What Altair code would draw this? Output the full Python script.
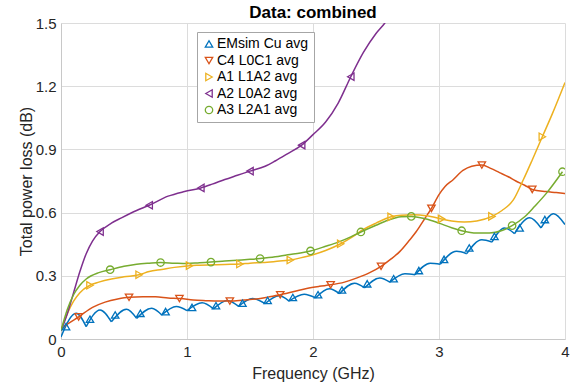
import altair as alt
import pandas as pd

# ---------------- data ----------------
series_names = ["EMsim Cu avg", "C4 L0C1 avg", "A1 L1A2 avg", "A2 L0A2 avg", "A3 L2A1 avg"]
series_colors = ["#0072BD", "#D95319", "#EDB120", "#7E2F8E", "#77AC30"]
series_shapes = ["triangle-up", "triangle-down", "triangle-right", "triangle-left", "circle"]

# EMsim Cu avg: scalloped curve described by valleys (cusps) and arch peaks
blue_valley_x = [0.0, 0.20, 0.40, 0.60, 0.80, 1.00, 1.21, 1.41, 1.62, 1.81, 2.02,
                 2.21, 2.41, 2.61, 2.81, 3.01, 3.22, 3.42, 3.60, 3.81, 4.0]
blue_valley_y = [0.01, 0.059, 0.082, 0.098, 0.114, 0.135, 0.143, 0.155, 0.168, 0.18, 0.195,
                 0.215, 0.243, 0.27, 0.305, 0.355, 0.405, 0.46, 0.50, 0.527, 0.543]
blue_peak_x = [0.12, 0.31, 0.52, 0.72, 0.915, 1.12, 1.32, 1.52, 1.73, 1.93,
               2.13, 2.33, 2.53, 2.73, 2.93, 3.14, 3.34, 3.52, 3.72, 3.91]
blue_peak_y = [0.122, 0.138, 0.141, 0.146, 0.154, 0.172, 0.183, 0.192, 0.205, 0.212,
               0.238, 0.265, 0.29, 0.31, 0.36, 0.416, 0.471, 0.527, 0.575, 0.595]
blue_mark_x = [0.04, 0.23, 0.43, 0.63, 0.83, 1.04, 1.23, 1.44, 1.64, 1.84,
               2.04, 2.23, 2.43, 2.64, 2.84, 3.04, 3.24, 3.44, 3.64, 3.84]
blue_mark_y = [0.059, 0.094, 0.114, 0.122, 0.13, 0.15, 0.158, 0.17, 0.183, 0.197,
               0.21, 0.233, 0.262, 0.286, 0.325, 0.378, 0.432, 0.487, 0.527, 0.567]

orange_x = [0, 0.05, 0.14, 0.25, 0.35, 0.45, 0.54, 0.65, 0.75, 0.85, 0.95, 1.05, 1.15, 1.25,
            1.34, 1.45, 1.55, 1.65, 1.74, 1.85, 1.95, 2.05, 2.14, 2.25, 2.35, 2.45, 2.54,
            2.62, 2.69, 2.76, 2.82, 2.88, 2.94, 3.0, 3.05, 3.11, 3.19, 3.26, 3.34, 3.41,
            3.48, 3.55, 3.61, 3.68, 3.74, 3.85, 3.93, 4.0]
orange_y = [0.045, 0.07, 0.105, 0.15, 0.175, 0.19, 0.198, 0.20, 0.20, 0.195, 0.192, 0.185,
            0.182, 0.18, 0.18, 0.185, 0.19, 0.20, 0.21, 0.225, 0.24, 0.25, 0.257, 0.27,
            0.29, 0.315, 0.345, 0.38, 0.416, 0.465, 0.51, 0.565, 0.62, 0.685, 0.725, 0.755,
            0.80, 0.82, 0.826, 0.81, 0.79, 0.77, 0.75, 0.73, 0.71, 0.70, 0.695, 0.69]
orange_mark_x = [0.14, 0.54, 0.94, 1.34, 1.74, 2.14, 2.54, 2.94, 3.34, 3.74]
orange_mark_y = [0.105, 0.198, 0.192, 0.18, 0.21, 0.257, 0.345, 0.62, 0.826, 0.71]

yellow_x = [0, 0.05, 0.1, 0.15, 0.23, 0.3, 0.4, 0.5, 0.62, 0.7, 0.8, 0.9, 1.02, 1.1, 1.2,
            1.3, 1.42, 1.5, 1.6, 1.7, 1.82, 1.9, 2.0, 2.1, 2.22, 2.3, 2.4, 2.5, 2.62, 2.7,
            2.8, 2.9, 3.02, 3.1, 3.2, 3.3, 3.42, 3.5, 3.59, 3.67, 3.74, 3.82, 3.9, 4.0]
yellow_y = [0.04, 0.12, 0.18, 0.22, 0.255, 0.27, 0.285, 0.295, 0.305, 0.32, 0.33, 0.34,
            0.348, 0.35, 0.352, 0.354, 0.356, 0.36, 0.363, 0.368, 0.375, 0.385, 0.40, 0.42,
            0.452, 0.48, 0.52, 0.55, 0.58, 0.588, 0.59, 0.585, 0.57, 0.56, 0.555, 0.56,
            0.582, 0.61, 0.66, 0.757, 0.85, 0.96, 1.07, 1.218]
yellow_mark_x = [0.23, 0.62, 1.02, 1.42, 1.82, 2.22, 2.62, 3.02, 3.42, 3.82]
yellow_mark_y = [0.255, 0.305, 0.348, 0.356, 0.375, 0.452, 0.58, 0.57, 0.582, 0.96]

purple_x = [0, 0.05, 0.1, 0.15, 0.2, 0.25, 0.31, 0.4, 0.48, 0.6, 0.7, 0.85, 0.98, 1.11,
            1.2, 1.3, 1.4, 1.5, 1.62, 1.7, 1.8, 1.91, 2.0, 2.1, 2.2, 2.3, 2.4, 2.5, 2.57, 2.65]
purple_y = [0.04, 0.12, 0.22, 0.32, 0.405, 0.465, 0.51, 0.55, 0.575, 0.61, 0.635, 0.678,
            0.70, 0.717, 0.735, 0.757, 0.777, 0.797, 0.82, 0.845, 0.88, 0.92, 0.97, 1.03,
            1.12, 1.245, 1.36, 1.45, 1.5, 1.58]
purple_mark_x = [0.31, 0.70, 1.11, 1.50, 1.91, 2.30]
purple_mark_y = [0.51, 0.635, 0.717, 0.797, 0.92, 1.245]

green_x = [0, 0.05, 0.1, 0.15, 0.2, 0.3, 0.39, 0.5, 0.6, 0.7, 0.79, 0.9, 1.0, 1.1, 1.19,
           1.3, 1.4, 1.5, 1.58, 1.7, 1.8, 1.9, 1.98, 2.1, 2.2, 2.3, 2.38, 2.5, 2.6, 2.7,
           2.78, 2.9, 3.0, 3.1, 3.18, 3.3, 3.4, 3.5, 3.58, 3.68, 3.76, 3.85, 3.98]
green_y = [0.04, 0.14, 0.21, 0.255, 0.285, 0.315, 0.329, 0.345, 0.355, 0.36, 0.363, 0.36,
           0.358, 0.362, 0.365, 0.37, 0.374, 0.378, 0.382, 0.39, 0.40, 0.408, 0.418, 0.44,
           0.46, 0.485, 0.508, 0.54, 0.565, 0.58, 0.582, 0.57, 0.55, 0.528, 0.514, 0.503,
           0.503, 0.515, 0.538, 0.58, 0.63, 0.69, 0.794]
green_mark_x = [0.39, 0.79, 1.19, 1.58, 1.98, 2.38, 2.78, 3.18, 3.58, 3.98]
green_mark_y = [0.329, 0.363, 0.365, 0.382, 0.418, 0.508, 0.582, 0.514, 0.538, 0.794]

x_ticks = [0, 1, 2, 3, 4]
y_ticks = [0, 0.3, 0.6, 0.9, 1.2, 1.5]

# ---------------- build tables ----------------
rows = []
# blue arches: valley -> peak -> next valley, each as its own segment
for i in range(len(blue_peak_x)):
    seg = f"blue{i}"
    rows.append(dict(series=series_names[0], seg=seg, x=blue_valley_x[i], y=blue_valley_y[i]))
    rows.append(dict(series=series_names[0], seg=seg, x=blue_peak_x[i], y=blue_peak_y[i]))
    rows.append(dict(series=series_names[0], seg=seg, x=blue_valley_x[i + 1], y=blue_valley_y[i + 1]))
for name, xs, ys in [(series_names[1], orange_x, orange_y),
                     (series_names[2], yellow_x, yellow_y),
                     (series_names[3], purple_x, purple_y),
                     (series_names[4], green_x, green_y)]:
    for a, b in zip(xs, ys):
        rows.append(dict(series=name, seg=name, x=a, y=b))
lines_df = pd.DataFrame(rows)

mrows = []
for name, xs, ys in [(series_names[0], blue_mark_x, blue_mark_y),
                     (series_names[1], orange_mark_x, orange_mark_y),
                     (series_names[2], yellow_mark_x, yellow_mark_y),
                     (series_names[3], purple_mark_x, purple_mark_y),
                     (series_names[4], green_mark_x, green_mark_y)]:
    for a, b in zip(xs, ys):
        mrows.append(dict(series=name, x=a, y=b))
marks_df = pd.DataFrame(mrows)

FONT = "Liberation Sans"

xenc = alt.X("x:Q", scale=alt.Scale(domain=[0, 4], nice=False, zero=False),
             axis=alt.Axis(values=x_ticks, format="d", title="Frequency (GHz)", labelFlush=False))
yenc = alt.Y("y:Q", scale=alt.Scale(domain=[0, 1.5], nice=False),
             axis=alt.Axis(values=y_ticks, format=".1~f", title="Total power loss (dB)", labelFlush=False))

legend = alt.Legend(title=None, orient="none", legendX=136, legendY=9,
                    fillColor="white", strokeColor="#a6a6a6", padding=5,
                    labelFontSize=14, labelFont=FONT, labelColor="#000000",
                    symbolSize=55, symbolStrokeWidth=1.3, rowPadding=2.5,
                    labelOffset=1, symbolOffset=0)

color_scale = alt.Scale(domain=series_names, range=series_colors)
shape_scale = alt.Scale(domain=series_names, range=series_shapes)

line_layer = alt.Chart(lines_df).mark_line(strokeWidth=1.5, interpolate="monotone", clip=True).encode(
    x=xenc, y=yenc,
    color=alt.Color("series:N", scale=color_scale, legend=legend),
    detail="seg:N",
)

point_layer = alt.Chart(marks_df).mark_point(filled=False, size=55, strokeWidth=1.3, opacity=1, clip=True).encode(
    x=xenc, y=yenc,
    color=alt.Color("series:N", scale=color_scale, legend=legend),
    shape=alt.Shape("series:N", scale=shape_scale, legend=legend),
)

chart = alt.layer(line_layer, point_layer).properties(
    width=504, height=316,
    autosize=alt.AutoSizeParams(type="none"),
    padding={"left": 61, "top": 23, "right": 8, "bottom": 49},
    title=alt.TitleParams("Data: combined", fontSize=17, fontWeight="bold", font=FONT,
                          color="#000000", anchor="middle", offset=4, frame="group", dy=10),
).configure_view(stroke=None).configure_axis(
    grid=True, gridColor="#dcdcdc", gridWidth=1,
    domainColor="#c8c8c8", domainWidth=1,
    ticks=False, labelFont=FONT, labelFontSize=15, labelColor="#262626",
    titleFont=FONT, titleFontSize=16, titleFontWeight="normal", titleColor="#262626",
).configure_axisX(labelPadding=5, titlePadding=6).configure_axisY(labelPadding=5, titlePadding=1)

chart.save("out.html", embed_options={"renderer": "svg", "actions": False})
